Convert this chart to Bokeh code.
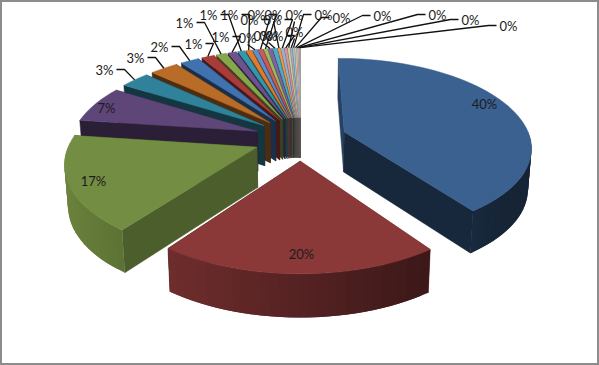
import numpy as np
from bokeh.plotting import figure
from bokeh.models import Range1d
from bokeh.core.properties import value
from bokeh.embed import file_html
from bokeh.resources import INLINE

slice_values = [40.1, 20.0, 17.0, 6.7, 3.0, 2.9, 1.9, 1.3, 1.0, 0.87, 0.68, 0.57,
                0.47, 0.45, 0.36, 0.39, 0.42, 0.25, 0.3, 0.26, 0.22, 0.2, 0.18,
                0.14, 0.12, 0.1, 0.07, 0.05]
slice_colors = ["#3A6190", "#8A3838", "#738E42", "#5E4679", "#2F8299", "#B96B28",
                "#3F72AE", "#A83C3A", "#86A84A", "#6D528E", "#3696AE", "#DB7F2E",
                "#5F8ECB", "#C95B58", "#9CBB62", "#8064A2", "#4BACC6", "#F79646",
                "#95B3D7", "#D99694", "#C3D69B", "#B2A2C7", "#93CDDD", "#FAC090",
                "#B9C7DA", "#D8BDBC", "#CFD8BE", "#C6BED2"]
# label placement (layout, screen pixels) for the labels that sit outside the pie
big_label_pos = [(484, 103), (301, 253), (93, 180), (106, 107)]
outer_label_pos = [(104, 69), (135, 57), (159, 46), (193, 43), (184, 22), (220, 36),
                   (208, 14), (229, 14), (247, 37), (249, 19), (256, 14), (262, 35),
                   (268, 35), (273, 14), (272, 19), (274, 35), (294, 14), (294, 31),
                   (323, 14), (341, 17), (382, 15), (437, 14), (470, 19), (508, 25)]

CX, CY, RX, RY, K, EXPLODE, DEPTH = 300, 138, 186, 87, 0.157, 0.25, 40

def project(X, Y):
    s = 1 / (1 + K * Y)
    return CX + RX * X * s, CY - RY * Y * s

def lower(x, y, Y):
    return CX + (x - CX) * 0.985, y + DEPTH + 3 * np.maximum(0, -Y)

def scale(col, f):
    r, g, b = int(col[1:3], 16), int(col[3:5], 16), int(col[5:7], 16)
    return "#%02x%02x%02x" % (int(r * f), int(g * f), int(b * f))

vals = np.array(slice_values, dtype=float)
edges = np.concatenate([[0], np.cumsum(vals)]) / vals.sum() * 2 * np.pi
mids = (edges[:-1] + edges[1:]) / 2

p = figure(width=599, height=365, output_backend="svg", toolbar_location=None,
           x_range=Range1d(0, 599), y_range=Range1d(365, 0), min_border=0,
           margin=0, outline_line_color="#8c8c8c", outline_line_width=3,
           background_fill_color="white", border_fill_color="white")
p.axis.visible = False
p.grid.visible = False

order = np.argsort(-np.cos(mids))
for i in order:
    col = slice_colors[i % len(slice_colors)]
    a, b = edges[i], edges[i + 1]
    ox, oy = EXPLODE * np.sin(mids[i]), EXPLODE * np.cos(mids[i])
    n = max(3, int((b - a) / 0.04))
    th = np.linspace(a, b, n)
    WX, WY = ox + np.sin(th), oy + np.cos(th)
    sx, sy = project(WX, WY)
    ax, ay = project(ox, oy)
    bx, by = lower(sx, sy, WY)
    apx, apy = lower(ax, ay, oy)
    deg = np.degrees(a)
    f_start = float(np.clip(0.45 + (277 - deg) * 0.0036, 0.42, 0.68))
    start = ([ax, sx[0], bx[0], apx], [ay, sy[0], by[0], apy], scale(col, f_start))
    end = ([ax, sx[-1], bx[-1], apx], [ay, sy[-1], by[-1], apy], scale(col, 0.42))
    # the wall that faces away goes down first
    for wx, wy, wc in ([end, start] if np.sin(a) < 0 else [start, end]):
        p.patch(wx, wy, fill_color=wc, line_color=wc, line_width=0.5)
    xs, ys, cs = [], [], []
    for j in range(n - 1):
        tm = (th[j] + th[j + 1]) / 2
        if np.cos(tm) > 0.0:
            continue
        f = float(np.clip(0.62 - 0.32 * np.sin(tm), 0.38, 0.95))
        e = min(j + 2, n - 1)
        xs.append([sx[j], sx[e], bx[e], bx[j]])
        ys.append([sy[j], sy[e], by[e], by[j]])
        cs.append(scale(col, f))
    if xs:
        p.patches(xs, ys, fill_color=cs, line_color=None)
    p.patch([ax, *sx], [ay, *sy], fill_color=col, line_color=col, line_width=0.5)

total = vals.sum()
labels = [f"{round(v / total * 100)}%" for v in vals]
n_big = len(big_label_pos)

lx, ly = [], []
for k, (tx, ty) in enumerate(outer_label_pos):
    i = n_big + k
    if i >= len(vals):
        break
    m = mids[i]
    ex, ey = project(EXPLODE * np.sin(m) + np.sin(m), EXPLODE * np.cos(m) + np.cos(m))
    if abs(tx - ex) < 8:
        lx.append([ex, tx]); ly.append([ey, ty + 7])
    elif tx < ex:
        lx.append([ex, tx + 20, tx + 12]); ly.append([ey, ty, ty])
    else:
        lx.append([ex, tx - 20, tx - 12]); ly.append([ey, ty, ty])
p.multi_line(lx, ly, line_color="#111111", line_width=1.3)

pos = big_label_pos + outer_label_pos
m = min(len(pos), len(labels))
p.text([q[0] for q in pos[:m]], [q[1] for q in pos[:m]], text=labels[:m],
       text_font=value("Lato"), text_font_size="13px", text_color="#1c1c1c",
       text_align="center", text_baseline="middle")

open("out.html", "w").write(file_html(p, INLINE))
